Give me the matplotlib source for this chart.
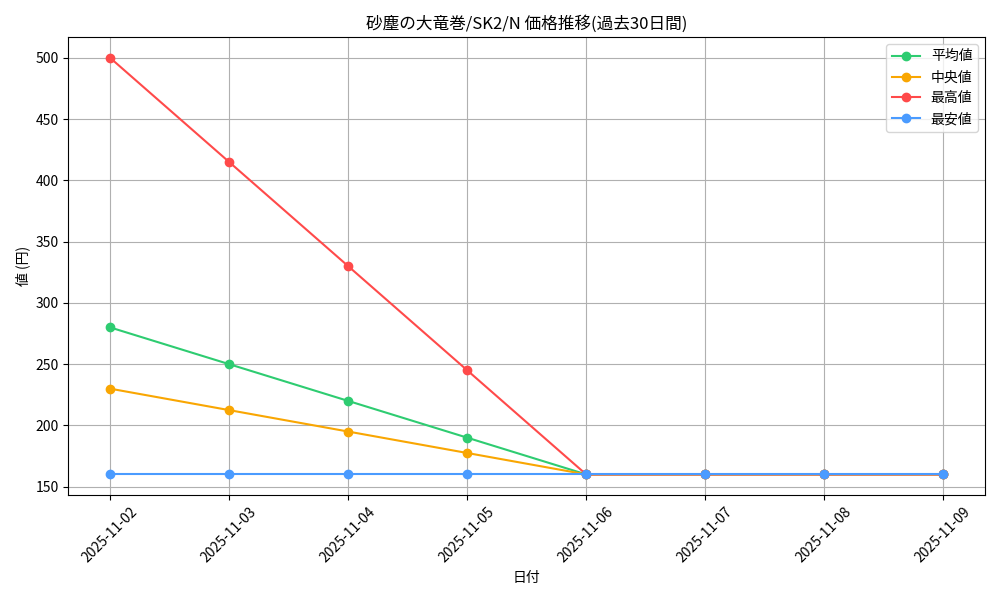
import matplotlib
matplotlib.use("Agg")
import matplotlib.pyplot as plt

plt.rcParams['font.family'] = ['Noto Sans CJK JP', 'DejaVu Sans']

dates = ["2025-11-02","2025-11-03","2025-11-04","2025-11-05","2025-11-06","2025-11-07","2025-11-08","2025-11-09"]
avg = [280, 250, 220, 190, 160, 160, 160, 160]
median = [230, 212.5, 195, 177.5, 160, 160, 160, 160]
high = [500, 415, 330, 245, 160, 160, 160, 160]
low = [160, 160, 160, 160, 160, 160, 160, 160]

fig, ax = plt.subplots(figsize=(10, 6), dpi=100)
x = range(len(dates))
ax.plot(x, avg, marker='o', color='#2ecc71', label='平均値')
ax.plot(x, median, marker='o', color='#f9a602', label='中央値')
ax.plot(x, high, marker='o', color='#ff4a4a', label='最高値')
ax.plot(x, low, marker='o', color='#4a9bff', label='最安値')
ax.set_xticks(list(x))
ax.set_xticklabels(dates, rotation=45)
ax.set_title('砂塵の大竜巻/SK2/N 価格推移(過去30日間)')
ax.set_xlabel('日付')
ax.set_ylabel('値 (円)')
ax.grid(True)
ax.legend(loc='upper right')
fig.tight_layout()
fig.savefig('out.png')
